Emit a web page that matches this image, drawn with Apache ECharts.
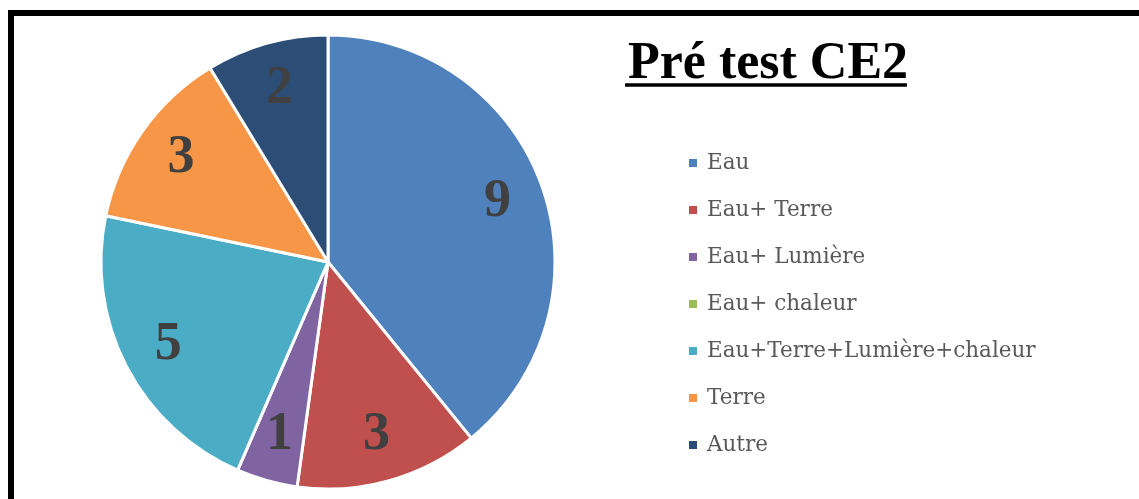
<!DOCTYPE html>
<html lang="fr">
<head>
  <meta charset="UTF-8">
  <title>Pré test CE2</title>
  <script src="https://cdn.jsdelivr.net/npm/echarts@6/dist/echarts.min.js"></script>
</head>
<body style="margin:0;background:#fff;">
<div id="main" style="width:1139px;height:499px;"></div>
<script type="text/javascript">

// données
var categories = ['Eau', 'Eau+ Terre', 'Eau+ Lumière', 'Eau+ chaleur', 'Eau+Terre+Lumière+chaleur', 'Terre', 'Autre'];
var values = [9, 3, 1, 0, 5, 3, 2];
var colors = ['#4F81BD', '#C0504D', '#8064A2', '#9BBB59', '#4BACC6', '#F79646', '#2C4D75'];

var pieData = categories.map(function (name, i) {
  return { name: name, value: values[i], itemStyle: { color: colors[i] } };
});

var myChart = echarts.init(document.getElementById('main'));

var option = {
  animation: false,
  title: {
    text: 'Pré test CE2',
    left: 623,
    top: 34,
    textStyle: {
      fontFamily: 'Liberation Serif',
      fontWeight: 'bold',
      fontSize: 52,
      color: '#000'
    }
  },
  legend: {
    orient: 'vertical',
    left: 682,
    top: 146,
    icon: 'rect',
    itemWidth: 10,
    itemHeight: 10,
    itemGap: 23,
    data: categories,
    textStyle: {
      fontFamily: 'DejaVu Serif',
      fontSize: 21.5,
      lineHeight: 24,
      color: '#595959',
      padding: [0, 0, 0, 4]
    }
  },
  graphic: [
    { // cadre noir
      type: 'rect',
      shape: { x: 11, y: 13, width: 1300, height: 700 },
      style: { fill: 'none', stroke: '#000', lineWidth: 6 },
      silent: true
    },
    { // soulignement du titre
      type: 'line',
      shape: { x1: 625, y1: 85, x2: 907, y2: 85 },
      style: { stroke: '#000', lineWidth: 3.5 },
      silent: true
    }
  ],
  series: [
    {
      type: 'pie',
      center: [328, 262],
      radius: [0, 227],
      startAngle: 90,
      clockwise: true,
      avoidLabelOverlap: false,
      label: { show: false },
      labelLine: { show: false },
      itemStyle: { borderColor: '#fff', borderWidth: 3 },
      emphasis: { disabled: true },
      data: pieData
    },
    {
      // anneau transparent pour placer les étiquettes vers le bord
      type: 'pie',
      center: [328, 262],
      radius: [127, 227],
      startAngle: 90,
      clockwise: true,
      silent: true,
      avoidLabelOverlap: false,
      itemStyle: { color: 'transparent', borderWidth: 0 },
      label: {
        show: true,
        position: 'inside',
        formatter: function (p) { return p.value ? String(p.value) : ''; },
        fontFamily: 'Liberation Serif',
        fontWeight: 'bold',
        fontSize: 54,
        color: '#404040'
      },
      labelLine: { show: false },
      emphasis: { disabled: true },
      data: values.map(function (v, i) { return { name: categories[i], value: v }; })
    }
  ]
};

myChart.setOption(option);

</script>
</body>
</html>
